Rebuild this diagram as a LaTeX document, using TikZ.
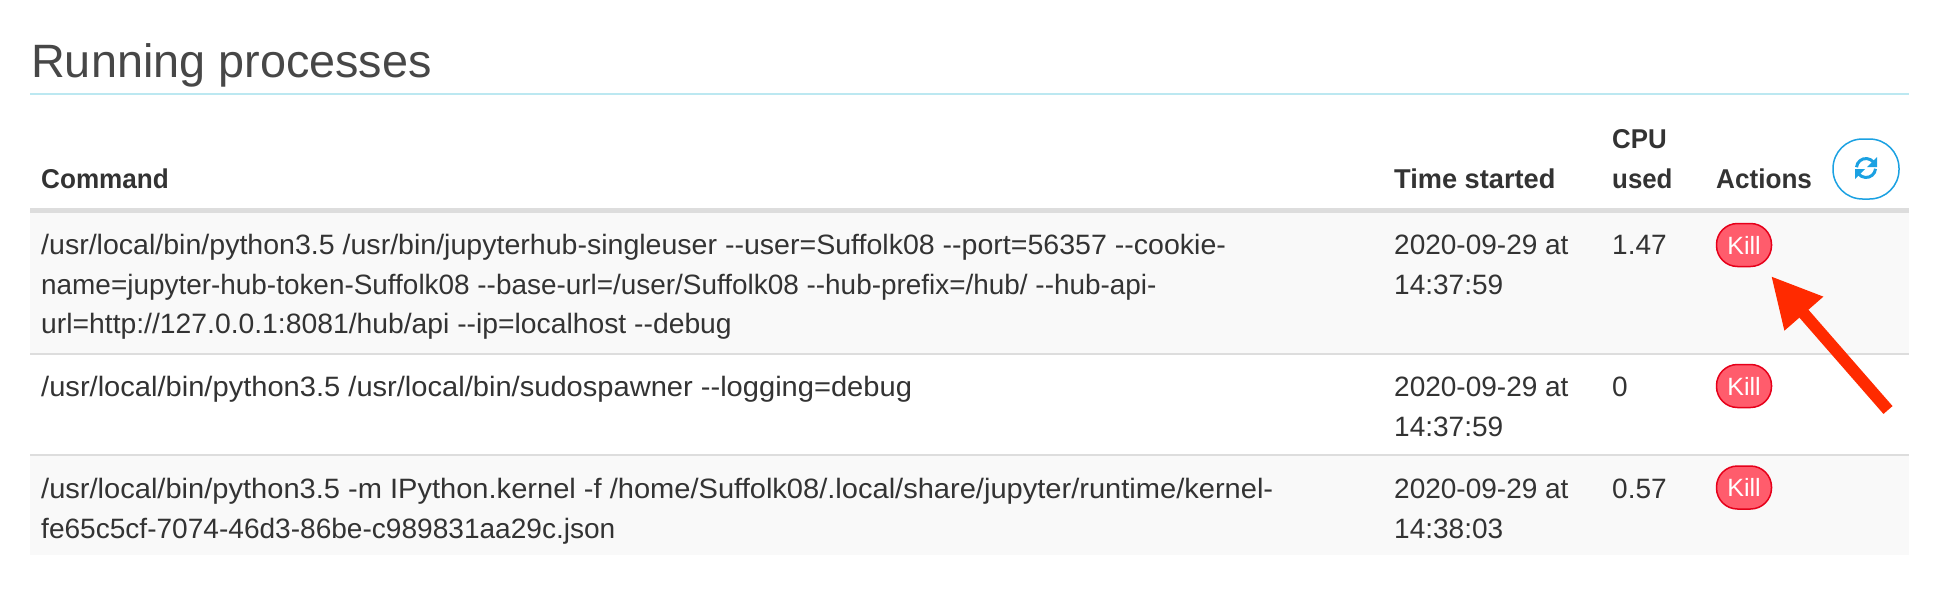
\documentclass[tikz,border=0pt]{standalone}
\usepackage{fontspec}
\usetikzlibrary{arrows.meta,positioning}
\newfontfamily\procfont{Liberation Sans}
\definecolor{textgrey}{HTML}{333333}
\definecolor{rulegrey}{HTML}{DDDDDD}
\definecolor{stripe}{HTML}{F9F9F9}
\definecolor{titleline}{HTML}{BCE8F1}
\definecolor{killfill}{HTML}{FF5C6C}
\definecolor{killline}{HTML}{E6001A}
\definecolor{refreshblue}{HTML}{1BA1E2}
\definecolor{arrowred}{HTML}{FF2A00}
\newcommand{\fitline}[2]{\scalebox{#1}[1]{#2}}
\tikzset{
  cell/.style={inner sep=0pt,anchor=north west,align=left,text=textgrey,font=\procfont\fontsize{28}{39.7}\selectfont},
  head/.style={cell,font=\procfont\bfseries\fontsize{27.2}{39.7}\selectfont},
  killbtn/.style={draw=killline,fill=killfill,line width=1.5pt,rounded corners=21pt,minimum width=55pt,minimum height=43pt,inner sep=0pt,text=white,font=\procfont\fontsize{25}{28}\selectfont}
}
\begin{document}
\begin{tikzpicture}[x=1pt,y=-1pt]
\useasboundingbox (0,0) rectangle (1940,592);
\fill[white] (0,0) rectangle (1940,592);
\fill[stripe] (30,213) rectangle (1909,354);
\fill[stripe] (30,456) rectangle (1909,555);
\draw[titleline,line width=2pt] (30,94) -- (1909,94);
\draw[rulegrey,line width=5pt] (30,210) -- (1909,210);
\draw[rulegrey,line width=2.5pt] (30,354) -- (1909,354);
\draw[rulegrey,line width=2.5pt] (30,455) -- (1909,455);
\node[inner sep=0pt,anchor=base west,text=textgrey!90,font=\procfont\fontsize{46.8}{56}\selectfont] (title) at (31,77) {Running processes};
\node[head] (command) at (41,161) {\strut\fitline{0.96}{Command}};
\node[head] (started) at (1394,161) {\strut Time started};
\node[head] (cpu) at (1612,121) {\strut\fitline{0.95}{CPU}\\\fitline{0.95}{used}};
\node[head] (actions) at (1716,161) {\strut\fitline{0.96}{Actions}};
\node[cell] (cmd1) at (41,226.5) {\strut\fitline{1.0196}{/usr/local/bin/python3.5 /usr/bin/jupyterhub-singleuser --user=Suffolk08 --port=56357 --cookie-}\\\fitline{0.997}{name=jupyter-hub-token-Suffolk08 --base-url=/user/Suffolk08 --hub-prefix=/hub/ --hub-api-}\\\fitline{1.0106}{url=http://127.0.0.1:8081/hub/api --ip=localhost --debug}};
\node[cell] (cmd2) at (41,369) {\strut\fitline{1.039}{/usr/local/bin/python3.5 /usr/local/bin/sudospawner --logging=debug}};
\node[cell] (cmd3) at (41,470.5) {\strut\fitline{1.038}{/usr/local/bin/python3.5 -m IPython.kernel -f /home/Suffolk08/.local/share/jupyter/runtime/kernel-}\\\fitline{1.0024}{fe65c5cf-7074-46d3-86be-c989831aa29c.json}};
\node[cell] (time1) at (1394,226.5) {\strut 2020-09-29 at\\14:37:59};
\node[cell] (time2) at (1394,369) {\strut 2020-09-29 at\\14:37:59};
\node[cell] (time3) at (1394,470.5) {\strut 2020-09-29 at\\14:38:03};
\node[cell] (cpu1) at (1612,226.5) {\strut 1.47};
\node[cell] (cpu2) at (1612,369) {\strut 0};
\node[cell] (cpu3) at (1612,470.5) {\strut 0.57};
\node[killbtn] (kill1) at (1744,245) {Kill};
\node[killbtn] (kill2) at (1744,386) {Kill};
\node[killbtn] (kill3) at (1744,487.5) {Kill};
\node[draw=refreshblue,line width=1.5pt,fill=white,rounded corners=29.5pt,minimum width=66pt,minimum height=60pt] (refresh) at (1866,169) {};
% refresh icon
\draw[refreshblue,line width=3pt] ([shift={(-9.5,-1.8)}]refresh.center) arc[start angle=185,end angle=320,radius=9.5];
\fill[refreshblue] ([shift={(11,-12)}]refresh.center) -- ++(0,10) -- ++(-10,0) -- cycle;
\draw[refreshblue,line width=3pt] ([shift={(9.5,-0.2)}]refresh.center) arc[start angle=5,end angle=140,radius=9.5];
\fill[refreshblue] ([shift={(-11,10)}]refresh.center) -- ++(0,-10) -- ++(10,0) -- cycle;
% arrow
\coordinate (tail) at (1888,410);
\coordinate (tip) at (1771,276);
\draw[arrowred,line width=12pt,-{Triangle[length=50pt,width=48pt]}] (tail) -- (tip);
\end{tikzpicture}
\end{document}
